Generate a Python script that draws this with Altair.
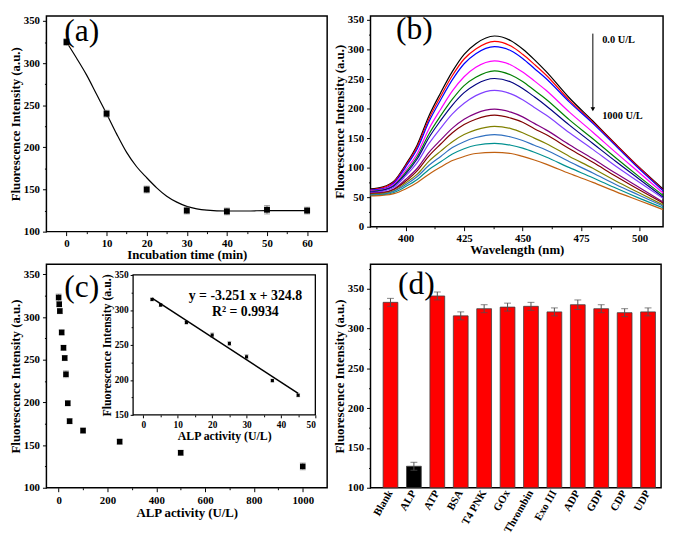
import altair as alt
import pandas as pd

FONT = "Liberation Serif"

# ---------------- (a) incubation time ----------------
a_time = [0, 10, 20, 30, 40, 50, 60]
a_int = [325, 240, 150, 125, 124, 126, 125]
a_err = [4, 4, 4, 4, 4, 5, 4]
a_fit_t = [0, 2.5, 5, 7.5, 10, 12.5, 15, 17.5, 20, 22.5, 25, 27.5, 30, 32.5, 35, 40, 45, 50, 55, 60]
a_fit_v = [325, 306, 286, 263, 240, 216, 194, 177, 164, 152, 142, 135, 130, 127, 125.5, 124.5, 124.5, 125, 125, 125]

# ---------------- (b) spectra ----------------
b_wl = [385, 390, 395, 400, 405, 410, 415, 420, 425, 430, 438, 445, 450, 455, 460, 470, 480, 490, 500, 510]
b_s01 = [64, 67, 77, 105, 139, 188, 227, 263, 292, 310, 323, 315, 301, 283, 263, 218, 179, 139, 100, 64]
b_s02 = [63, 66, 76, 103, 136, 183, 221, 256, 284, 301, 314, 306, 292, 275, 257, 214, 177, 138, 99, 62]
b_s03 = [62, 64, 74, 101, 132, 178, 215, 249, 276, 293, 305, 298, 285, 268, 251, 211, 175, 136, 97, 61]
b_s04 = [61, 63, 72, 96, 124, 166, 199, 230, 254, 270, 281, 274, 262, 247, 231, 194, 160, 125, 91, 57]
b_s05 = [60, 62, 70, 92, 119, 157, 188, 216, 239, 253, 264, 257, 246, 231, 216, 181, 149, 116, 84, 53]
b_s06 = [59, 61, 69, 89, 115, 151, 180, 206, 227, 241, 251, 245, 234, 220, 205, 172, 141, 110, 80, 50]
b_s07 = [58, 60, 67, 86, 109, 141, 167, 191, 209, 222, 231, 225, 215, 202, 189, 159, 131, 102, 75, 48]
b_s08 = [57, 58, 64, 80, 99, 126, 147, 167, 182, 192, 199, 194, 186, 175, 164, 139, 115, 90, 66, 42]
b_s09 = [56, 57, 63, 77, 95, 120, 140, 159, 173, 182, 189, 184, 177, 166, 156, 132, 109, 85, 62, 40]
b_s10 = [55, 56, 61, 74, 89, 111, 128, 144, 156, 164, 170, 166, 159, 150, 141, 119, 99, 77, 57, 37]
b_s11 = [54, 55, 60, 71, 85, 104, 119, 134, 144, 151, 156, 152, 146, 138, 130, 110, 91, 71, 53, 35]
b_s12 = [53, 54, 58, 68, 80, 97, 110, 123, 132, 138, 141, 138, 133, 126, 118, 100, 83, 65, 48, 32]
b_s13 = [52, 53, 56, 64, 75, 89, 101, 112, 119, 124, 126, 124, 119, 113, 106, 90, 75, 59, 44, 29]
b_series = [b_s01, b_s02, b_s03, b_s04, b_s05, b_s06, b_s07, b_s08, b_s09, b_s10, b_s11, b_s12, b_s13]
b_names = ["s%02d" % (i + 1) for i in range(13)]
b_colors = ["#000000", "#ff0000", "#0000ff", "#ff00ff", "#008000", "#000080", "#8040ff",
            "#800080", "#800000", "#808000", "#3070c0", "#009090", "#c06010"]
b_labels = ["0.0 U/L", "1000 U/L"]
b_label_x = [484, 484]
b_label_y = [316, 187]

# ---------------- (c) ALP activity ----------------
c_act = [0, 2.5, 5, 12.5, 20, 25, 30, 37.5, 45, 100, 250, 500, 1000]
c_int = [323, 315, 307, 282, 264, 252, 233, 199, 178, 167, 154, 141, 125]
c_err = [4, 3, 3, 3, 3, 3, 4, 3, 3, 3, 3, 3, 4]
i_act = [2.5, 5, 12.5, 20, 25, 30, 37.5, 45]
i_int = [315, 307, 282, 264, 252, 233, 199, 178]
i_err = [2, 2, 2, 3, 3, 3, 2, 2]
eq_text = ["y = -3.251 x + 324.8", "R\u00b2 = 0.9934"]

# ---------------- (d) selectivity ----------------
d_cat = ["Blank", "ALP", "ATP", "BSA", "T4 PNK", "GOx", "Thrombin", "Exo III", "ADP", "GDP", "CDP", "UDP"]
d_val = [333, 127, 341, 316, 325, 327, 328, 321, 330, 325, 320, 321]
d_err = [5, 5, 5, 5, 5, 5, 5, 5, 6, 5, 5, 5]

STYLE = dict(labelFont=FONT, titleFont=FONT, labelFontWeight="bold", titleFontWeight="bold",
             labelColor="black", titleColor="black", tickColor="black", grid=False, domain=False,
             tickWidth=1, labelOverlap=False)


def AX(**kw):
    d = dict(STYLE)
    d.update(dict(labelFontSize=11, titleFontSize=13, tickSize=4, labelPadding=3, titlePadding=1))
    d.update(kw)
    return alt.Axis(**d)


def min_axis(values, orient, offset=0, size=2):
    return alt.Axis(values=values, orient=orient, labels=False, title=None, tickSize=size,
                    tickColor="black", tickWidth=1, domain=False, grid=False, offset=offset)


def label_layer(txt, x, y):
    return alt.Chart(pd.DataFrame({"t": [txt]})).mark_text(
        font=FONT, fontSize=32, align="left", baseline="alphabetic", color="black"
    ).encode(text="t:N", x=alt.value(x), y=alt.value(y))


def err_layers(df, xfield, xs, ys, color, cap):
    rule = alt.Chart(df).mark_rule(color=color, strokeWidth=1).encode(
        x=alt.X(xfield, scale=xs, axis=None),
        y=alt.Y("lo:Q", scale=ys, axis=None), y2="hi:Q")
    caps = alt.Chart(df).transform_fold(["lo", "hi"], as_=["k", "e"]).mark_tick(
        orient="horizontal", color=color, size=cap, thickness=1).encode(
        x=alt.X(xfield, scale=xs, axis=None),
        y=alt.Y("e:Q", scale=ys, axis=None))
    return rule, caps


YT = "Fluorescence Intensity (a.u.)"

# ---------- panel a ----------
dfa = pd.DataFrame({"t": a_time, "v": a_int,
                    "lo": [v - e for v, e in zip(a_int, a_err)],
                    "hi": [v + e for v, e in zip(a_int, a_err)]})
dfa_fit = pd.DataFrame({"t": a_fit_t, "v": a_fit_v})
xs_a = alt.Scale(domain=[-5, 65], nice=False, zero=False)
ys_a = alt.Scale(domain=[100, 356], nice=False, zero=False)
a_line = alt.Chart(dfa_fit).mark_line(color="black", strokeWidth=1.2, interpolate="monotone").encode(
    x=alt.X("t:Q", scale=xs_a, axis=AX(values=list(range(0, 61, 10)), title="Incubation time (min)",
                                       orient="bottom", labelPadding=2, titlePadding=0)),
    y=alt.Y("v:Q", scale=ys_a, axis=AX(values=list(range(100, 351, 50)), title=YT, orient="left")))
a_minor = alt.Chart(dfa_fit).mark_point(opacity=0).encode(
    x=alt.X("t:Q", scale=xs_a, axis=min_axis([5, 15, 25, 35, 45, 55], "bottom")),
    y=alt.Y("v:Q", scale=ys_a, axis=min_axis([125, 175, 225, 275, 325], "left")))
a_rule, a_cap = err_layers(dfa, "t:Q", xs_a, ys_a, "#808080", 6)
a_pts = alt.Chart(dfa).mark_square(size=36, color="black", opacity=1).encode(
    x=alt.X("t:Q", scale=xs_a, axis=None), y=alt.Y("v:Q", scale=ys_a, axis=None))
panel_a = alt.layer(a_line, a_minor, a_rule, a_cap, a_pts, label_layer("(a)", 18, 25)).resolve_axis(
    x="independent", y="independent").properties(width=285, height=219)

# ---------- panel b ----------
rows = []
for name, ser in zip(b_names, b_series):
    for w, v in zip(b_wl, ser):
        rows.append({"w": w, "v": v, "s": name})
dfb = pd.DataFrame(rows)
xs_b = alt.Scale(domain=[385, 510], nice=False, zero=False)
ys_b = alt.Scale(domain=[0, 357], nice=False, zero=False)
b_lines = alt.Chart(dfb).mark_line(strokeWidth=1.2, interpolate="monotone").encode(
    x=alt.X("w:Q", scale=xs_b, axis=AX(values=[400, 425, 450, 475, 500], title="Wavelength (nm)",
                                       orient="bottom", labelPadding=2, titlePadding=0)),
    y=alt.Y("v:Q", scale=ys_b, axis=AX(values=list(range(0, 351, 50)), title=YT, orient="left")),
    color=alt.Color("s:N", scale=alt.Scale(domain=b_names, range=b_colors), legend=None),
    order=alt.Order("w:Q"))
b_minor = alt.Chart(dfb).mark_point(opacity=0).encode(
    x=alt.X("w:Q", scale=xs_b, axis=min_axis([387.5, 412.5, 437.5, 462.5, 487.5], "bottom")),
    y=alt.Y("v:Q", scale=ys_b, axis=min_axis([25, 75, 125, 175, 225, 275, 325], "left")))
dfb_arrow = pd.DataFrame({"x": [480], "y1": [327], "y2": [199]})
b_arrow = alt.Chart(dfb_arrow).mark_rule(color="black", strokeWidth=1).encode(
    x=alt.X("x:Q", scale=xs_b, axis=None), y=alt.Y("y1:Q", scale=ys_b, axis=None), y2="y2:Q")
b_head = alt.Chart(dfb_arrow).mark_point(shape="triangle-down", size=22, filled=True, color="black", opacity=1).encode(
    x=alt.X("x:Q", scale=xs_b, axis=None), y=alt.Y("y2:Q", scale=ys_b, axis=None))
dfb_txt = pd.DataFrame({"x": b_label_x, "y": b_label_y, "t": b_labels})
b_text = alt.Chart(dfb_txt).mark_text(font=FONT, fontWeight="bold", fontSize=10.5, align="left",
                                      baseline="middle", color="black").encode(
    x=alt.X("x:Q", scale=xs_b, axis=None), y=alt.Y("y:Q", scale=ys_b, axis=None), text="t:N")
panel_b = alt.layer(b_lines, b_minor, b_arrow, b_head, b_text, label_layer("(b)", 26, 23)).resolve_axis(
    x="independent", y="independent").properties(width=297, height=214)

# ---------- panel c ----------
dfc = pd.DataFrame({"a": c_act, "v": c_int,
                    "lo": [v - e for v, e in zip(c_int, c_err)],
                    "hi": [v + e for v, e in zip(c_int, c_err)]})
xs_c = alt.Scale(domain=[-50, 1100], nice=False, zero=False)
ys_c = alt.Scale(domain=[100, 362], nice=False, zero=False)
c_pts = alt.Chart(dfc).mark_square(size=32, color="black", opacity=1).encode(
    x=alt.X("a:Q", scale=xs_c, axis=AX(values=list(range(0, 1001, 200)), format="d",
                                       title="ALP activity (U/L)", orient="bottom")),
    y=alt.Y("v:Q", scale=ys_c, axis=AX(values=list(range(100, 351, 50)), title=YT, orient="left")))
c_minor = alt.Chart(dfc).mark_point(opacity=0).encode(
    x=alt.X("a:Q", scale=xs_c, axis=min_axis([100, 300, 500, 700, 900], "bottom")),
    y=alt.Y("v:Q", scale=ys_c, axis=min_axis([125, 175, 225, 275, 325], "left")))
c_rule, c_cap = err_layers(dfc, "a:Q", xs_c, ys_c, "#909090", 6)
c_main = alt.layer(c_rule, c_cap, c_pts, c_minor).resolve_axis(x="independent", y="independent")

dfi = pd.DataFrame({"a": i_act, "v": i_int,
                    "lo": [v - e for v, e in zip(i_int, i_err)],
                    "hi": [v + e for v, e in zip(i_int, i_err)]})
xs_i = alt.Scale(domain=[-3, 50], range=[88, 273], nice=False, zero=False)
ys_i = alt.Scale(domain=[150, 350], range=[153, 11], nice=False, zero=False)
i_frame = alt.Chart(pd.DataFrame({"k": [0]})).mark_rect(fill="white", stroke="black", strokeWidth=1.3).encode(
    x=alt.XDatum(-3, scale=xs_i, axis=None, type="quantitative"),
    x2=alt.X2Datum(50),
    y=alt.YDatum(150, scale=ys_i, axis=None, type="quantitative"),
    y2=alt.Y2Datum(350))
i_pts = alt.Chart(dfi).mark_square(size=10, color="black", opacity=1).encode(
    x=alt.X("a:Q", scale=xs_i, axis=AX(values=list(range(0, 51, 10)), title="ALP activity (U/L)",
                                       orient="bottom", offset=-74, labelFontSize=9.5, titleFontSize=12,
                                       tickSize=3, labelPadding=2, titlePadding=2)),
    y=alt.Y("v:Q", scale=ys_i, axis=AX(values=list(range(150, 351, 50)), title=YT,
                                       orient="left", offset=-88, labelFontSize=9.5, titleFontSize=12,
                                       tickSize=3, labelPadding=2, titlePadding=1)))
i_minor = alt.Chart(dfi).mark_point(opacity=0).encode(
    x=alt.X("a:Q", scale=xs_i, axis=min_axis([5, 15, 25, 35, 45], "bottom", offset=-74, size=2)),
    y=alt.Y("v:Q", scale=ys_i, axis=min_axis([175, 225, 275, 325], "left", offset=-88, size=2)))
i_rule, i_cap = err_layers(dfi, "a:Q", xs_i, ys_i, "#909090", 4)
i_line = alt.Chart(dfi).transform_regression("a", "v", extent=[2.5, 45]).mark_line(
    color="black", strokeWidth=1.5).encode(
    x=alt.X("a:Q", scale=xs_i, axis=None), y=alt.Y("v:Q", scale=ys_i, axis=None))
c_inset = alt.layer(i_frame, i_rule, i_cap, i_line, i_pts, i_minor).resolve_axis(x="independent", y="independent")
c_eq1 = alt.Chart(pd.DataFrame({"t": [eq_text[0]]})).mark_text(
    font=FONT, fontWeight="bold", fontSize=14, align="center", baseline="alphabetic", color="black").encode(
    text="t:N", x=alt.value(202), y=alt.value(36))
c_eq2 = alt.Chart(pd.DataFrame({"t": [eq_text[1]]})).mark_text(
    font=FONT, fontWeight="bold", fontSize=14, align="center", baseline="alphabetic", color="black").encode(
    text="t:N", x=alt.value(202), y=alt.value(53))
panel_c = alt.layer(c_main, c_inset, c_eq1, c_eq2, label_layer("(c)", 18, 33)).resolve_scale(
    x="independent", y="independent").resolve_axis(x="independent", y="independent").properties(width=285, height=227)

# ---------- panel d ----------
dfd = pd.DataFrame({"cat": d_cat, "v": d_val,
                    "lo": [v - e for v, e in zip(d_val, d_err)],
                    "hi": [v + e for v, e in zip(d_val, d_err)]})
xs_d = alt.Scale(domain=d_cat, paddingInner=0.369, paddingOuter=0.39, align=0.69)
ys_d = alt.Scale(domain=[100, 381], nice=False, zero=False)
d_bars = alt.Chart(dfd).mark_bar(stroke="#404040", strokeWidth=0.8).encode(
    x=alt.X("cat:N", scale=xs_d, sort=d_cat,
            axis=AX(title=None, orient="bottom", labelAngle=-60, labelAlign="right",
                    labelBaseline="middle", ticks=False, labelPadding=3)),
    y=alt.Y("v:Q", scale=ys_d, axis=AX(values=list(range(100, 351, 50)), title=YT, orient="left")),
    y2=alt.Y2Datum(100),
    color=alt.condition(alt.datum.cat == "ALP", alt.value("#000000"), alt.value("#ff0000")))
d_minor = alt.Chart(dfd).mark_point(opacity=0).encode(
    x=alt.X("cat:N", scale=xs_d, sort=d_cat, axis=None),
    y=alt.Y("v:Q", scale=ys_d, axis=min_axis([125, 175, 225, 275, 325, 375], "left")))
d_rule, d_cap = err_layers(dfd, "cat:N", xs_d, ys_d, "#505050", 7)
panel_d = alt.layer(d_bars, d_minor, d_rule, d_cap, label_layer("(d)", 28, 30)).resolve_axis(
    x="independent", y="independent").properties(width=295, height=227)

chart = alt.concat(panel_a, panel_b, panel_c, panel_d, columns=2, spacing={"row": 33, "column": 44}).properties(
    bounds="flush", padding=0, background="white"
).configure_view(stroke="black", strokeWidth=1.5)

chart.save("out.html", embed_options={"renderer": "svg", "actions": False})
